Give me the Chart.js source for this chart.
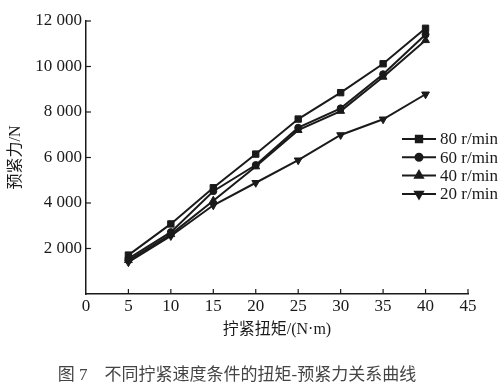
<!DOCTYPE html>
<html>
<head>
<meta charset="utf-8">
<script src="https://cdn.jsdelivr.net/npm/chart.js@4/dist/chart.umd.min.js"></script>
<style>
    html, body { margin: 0; padding: 0; background: #fff; }
    #wrap { width: 502px; height: 392px; position: relative; }
</style>
</head>
<body>
<div id="wrap"><canvas id="forceChart"></canvas></div>
<script>
//DATA
const torque = [5, 10, 15, 20, 25, 30, 35, 40];
const force80 = [1710, 3080, 4670, 6150, 7690, 8850, 10120, 11680];
const force60 = [1560, 2720, 4520, 5670, 7310, 8160, 9660, 11410];
const force40 = [1480, 2620, 4100, 5600, 7200, 8040, 9540, 11150];
const force20 = [1400, 2550, 3900, 4890, 5880, 6990, 7680, 8780];
const seriesLabels = ['80 r/min', '60 r/min', '40 r/min', '20 r/min'];
const xTicks = [0, 5, 10, 15, 20, 25, 30, 35, 40, 45];
const yTicks = [2000, 4000, 6000, 8000, 10000, 12000];

const serif = '"Liberation Serif", "Noto Sans CJK SC", serif';
const ink = '#1a1a1a';

function pairs(values) {
    return torque.map((t, i) => ({ x: t, y: values[i] }));
}

function makeSet(label, values, style, rot) {
    return {
        label: label,
        data: pairs(values),
        borderColor: ink,
        backgroundColor: ink,
        borderWidth: 2,
        pointStyle: style,
        pointRotation: rot,
        pointRadius: style === 'circle' ? 3.5 : 4.5,
        pointBorderWidth: 1,
        tension: 0
    };
}

const forceData = {
    datasets: [
        makeSet(seriesLabels[0], force80, 'rect', 0),
        makeSet(seriesLabels[1], force60, 'circle', 0),
        makeSet(seriesLabels[2], force40, 'triangle', 0),
        makeSet(seriesLabels[3], force20, 'triangle', 180)
    ]
};

// inward tick marks + legend inside the plot
const extras = {
    id: 'extras',
    afterDraw(chart) {
        const ctx = chart.ctx;
        const xs = chart.scales.x;
        const ys = chart.scales.y;
        const area = chart.chartArea;
        ctx.save();
        ctx.strokeStyle = ink;
        ctx.lineWidth = 1.2;
        xTicks.forEach(v => {
            if (v === 0) return;
            const px = xs.getPixelForValue(v);
            ctx.beginPath();
            ctx.moveTo(px, area.bottom);
            ctx.lineTo(px, area.bottom - 5);
            ctx.stroke();
        });
        yTicks.forEach(v => {
            const py = ys.getPixelForValue(v);
            ctx.beginPath();
            ctx.moveTo(area.left, py);
            ctx.lineTo(area.left + 5, py);
            ctx.stroke();
        });

        // legend
        const lx = 402, ly = 139, gap = 18.3;
        ctx.font = '17px ' + serif;
        ctx.textBaseline = 'middle';
        ctx.fillStyle = ink;
        chart.data.datasets.forEach((ds, i) => {
            const y = ly + i * gap;
            ctx.lineWidth = 2;
            ctx.beginPath();
            ctx.moveTo(lx, y);
            ctx.lineTo(lx + 34, y);
            ctx.stroke();
            Chart.helpers.drawPoint(ctx, {
                pointStyle: ds.pointStyle,
                rotation: ds.pointRotation,
                radius: ds.pointRadius,
                borderWidth: 1
            }, lx + 17, y);
            ctx.fillText(ds.label, lx + 38, y + 1);
        });
        ctx.restore();
    }
};

//CONFIG
const forceConfig = {
    type: 'line',
    data: forceData,
    options: {
        responsive: true,
        maintainAspectRatio: false,
        animation: false,
        layout: { padding: { left: 6, right: 34, top: 21, bottom: 0 } },
        plugins: {
            legend: { display: false },
            tooltip: { enabled: false },
            title: {
                display: true,
                position: 'bottom',
                text: '图 7    不同拧紧速度条件的扭矩-预紧力关系曲线',
                color: '#444',
                font: { family: serif, size: 17, weight: 'normal' },
                padding: { top: 26, bottom: 6 }
            }
        },
        scales: {
            x: {
                type: 'linear',
                min: 0,
                max: 45,
                afterBuildTicks: s => { s.ticks = xTicks.map(v => ({ value: v })); },
                ticks: {
                    color: ink,
                    font: { family: serif, size: 17 },
                    padding: 2,
                    maxRotation: 0
                },
                grid: { display: false, drawTicks: false },
                border: { display: true, color: ink, width: 1.5 },
                title: {
                    display: true,
                    text: '拧紧扭矩/(N·m)',
                    color: ink,
                    font: { family: serif, size: 16 },
                    padding: { top: 2, bottom: 0 }
                }
            },
            y: {
                min: 0,
                max: 12000,
                afterBuildTicks: s => { s.ticks = yTicks.map(v => ({ value: v })); },
                ticks: {
                    color: ink,
                    font: { family: serif, size: 17 },
                    padding: 4,
                    callback: v => String(v).replace(/\B(?=(\d{3})+(?!\d))/g, ' ')
                },
                grid: { display: false, drawTicks: false },
                border: { display: true, color: ink, width: 1.5 },
                title: {
                    display: true,
                    text: '预紧力/N',
                    color: ink,
                    font: { family: serif, size: 16 },
                    padding: { top: 0, bottom: 6 }
                }
            }
        }
    },
    plugins: [extras]
};

//RENDER
const forceChart = new Chart(
    document.getElementById('forceChart'),
    forceConfig
);
</script>
</body>
</html>
